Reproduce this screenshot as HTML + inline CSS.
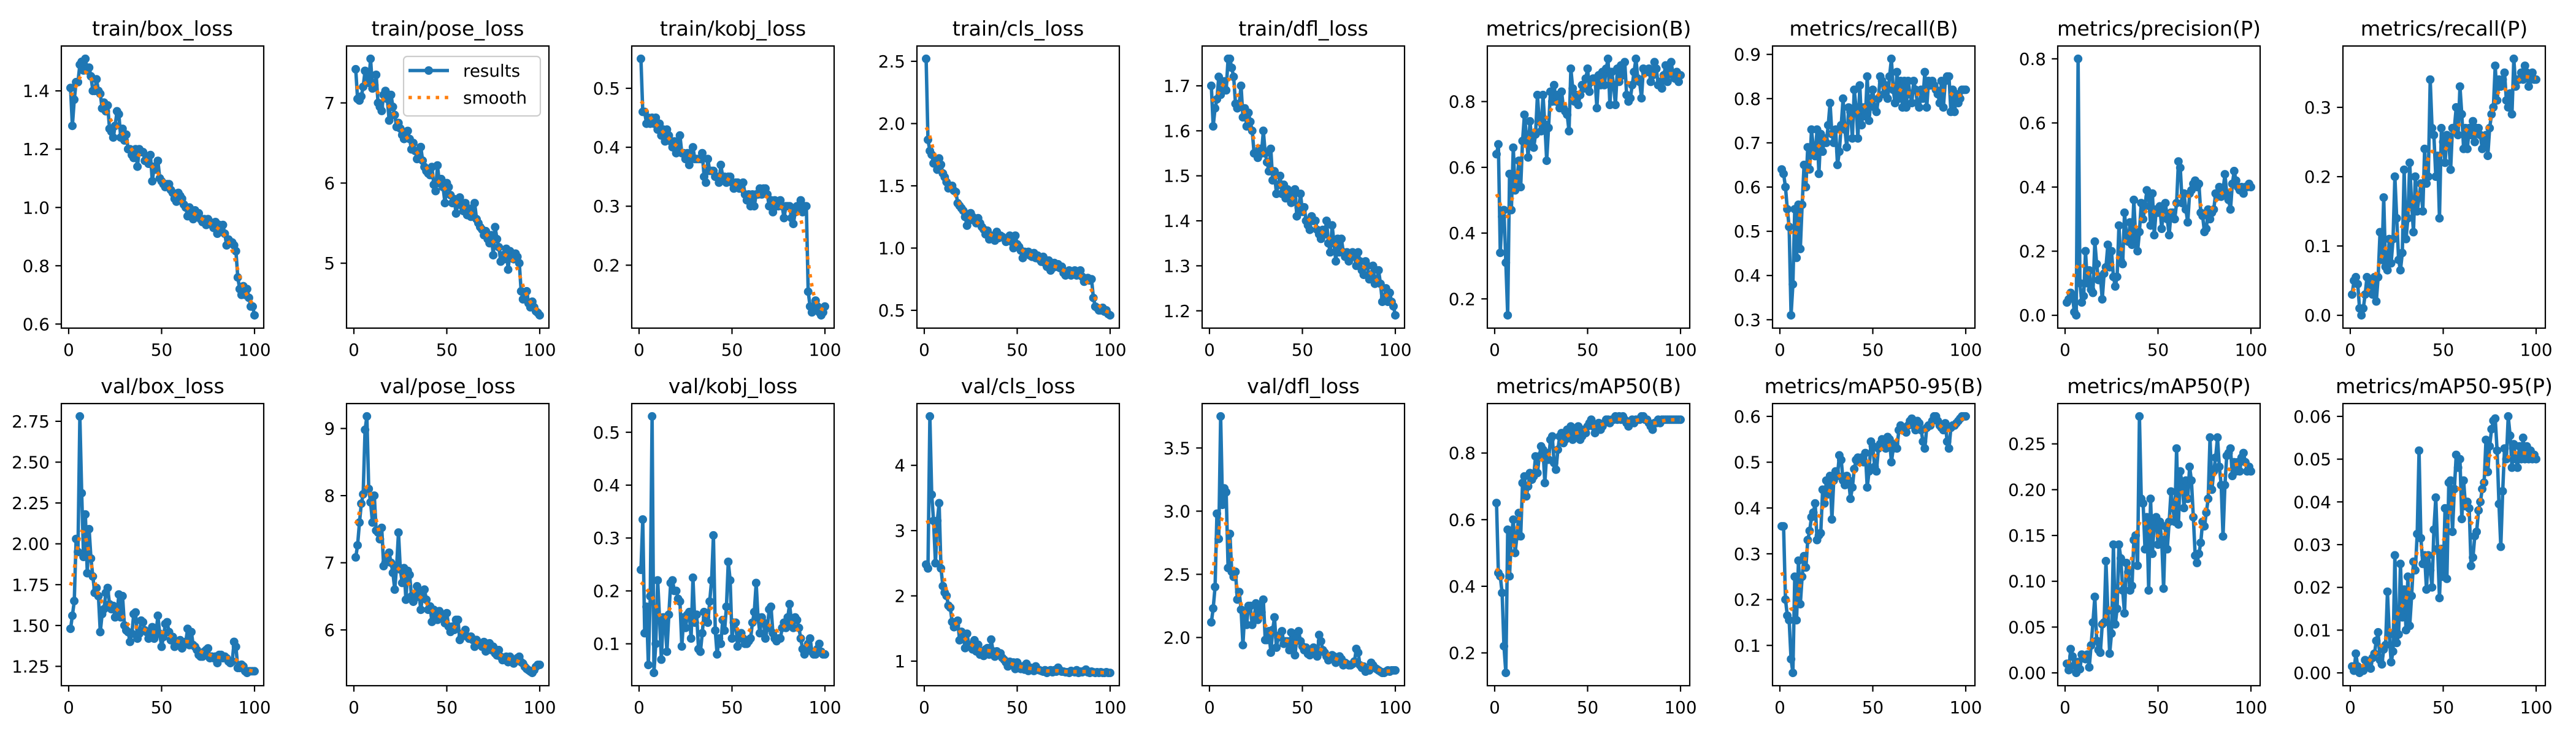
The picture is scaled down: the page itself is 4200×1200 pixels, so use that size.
<!DOCTYPE html>
<html><head><meta charset="utf-8"><style>
html,body{margin:0;padding:0;background:#fff}
svg{display:block}
text{font-family:"DejaVu Sans","Liberation Sans",sans-serif;fill:#000}
</style></head>
<body>
<svg id="fig" width="4200" height="1200" viewBox="0 0 4200 1200" xmlns="http://www.w3.org/2000/svg">
<rect width="4200" height="1200" fill="#fff"/>
</svg>
<script>
const titles = ["train/box_loss","train/pose_loss","train/kobj_loss","train/cls_loss","train/dfl_loss","metrics/precision(B)","metrics/recall(B)","metrics/precision(P)","metrics/recall(P)","val/box_loss","val/pose_loss","val/kobj_loss","val/cls_loss","val/dfl_loss","metrics/mAP50(B)","metrics/mAP50-95(B)","metrics/mAP50(P)","metrics/mAP50-95(P)"];

const trainBox = [1.41,1.28,1.37,1.43,1.43,1.49,1.50,1.47,1.51,1.47,1.48,1.45,1.40,1.40,1.44,1.40,1.39,1.34,1.36,1.33,1.35,1.27,1.26,1.24,1.28,1.33,1.32,1.24,1.27,1.23,1.25,1.20,1.20,1.18,1.17,1.20,1.14,1.20,1.19,1.19,1.16,1.17,1.15,1.18,1.09,1.14,1.13,1.16,1.10,1.09,1.08,1.07,1.08,1.08,1.06,1.05,1.03,1.02,1.05,1.04,1.03,1.01,1.00,0.97,1.00,0.99,0.96,0.99,0.97,0.98,0.96,0.95,0.96,0.94,0.96,0.95,0.94,0.93,0.95,0.91,0.94,0.92,0.94,0.91,0.87,0.89,0.88,0.88,0.87,0.85,0.76,0.72,0.70,0.73,0.70,0.72,0.69,0.66,0.66,0.63];
const trainPose = [7.42,7.05,7.03,7.08,7.2,7.4,7.3,7.25,7.55,7.18,7.22,7.35,7.0,6.95,6.9,7.1,7.15,7.05,6.78,7.1,6.95,6.85,6.7,6.75,6.68,6.6,6.55,6.58,6.65,6.55,6.42,6.5,6.4,6.3,6.35,6.45,6.28,6.2,6.15,6.12,6.1,6.2,5.98,5.9,6.22,6.0,6.05,5.95,5.75,6.0,5.95,5.85,5.75,5.8,5.62,5.75,5.82,5.72,5.65,5.75,5.6,5.68,5.58,5.62,5.75,5.55,5.5,5.45,5.42,5.35,5.4,5.3,5.25,5.35,5.1,5.45,5.3,5.2,5.02,5.1,5.05,5.18,4.92,5.15,5.1,5.05,5.12,5.08,5.0,4.65,4.55,4.6,4.65,4.5,4.45,4.52,4.45,4.4,4.38,4.35];
const trainKobj = [0.55,0.46,0.46,0.44,0.45,0.44,0.45,0.44,0.45,0.43,0.44,0.42,0.43,0.41,0.43,0.42,0.41,0.40,0.41,0.39,0.40,0.42,0.39,0.39,0.38,0.39,0.37,0.39,0.40,0.38,0.38,0.38,0.38,0.39,0.35,0.34,0.38,0.36,0.36,0.36,0.35,0.35,0.34,0.37,0.35,0.35,0.34,0.35,0.35,0.34,0.33,0.34,0.34,0.33,0.33,0.34,0.32,0.31,0.32,0.30,0.32,0.30,0.32,0.32,0.33,0.32,0.33,0.33,0.32,0.30,0.31,0.29,0.31,0.30,0.30,0.31,0.30,0.28,0.30,0.30,0.30,0.28,0.27,0.29,0.30,0.30,0.31,0.29,0.30,0.30,0.155,0.13,0.12,0.13,0.14,0.13,0.12,0.115,0.12,0.13];
const trainCls = [2.52,1.87,1.78,1.75,1.68,1.70,1.63,1.72,1.67,1.60,1.57,1.53,1.48,1.50,1.50,1.46,1.45,1.36,1.34,1.32,1.30,1.25,1.18,1.22,1.28,1.25,1.22,1.20,1.24,1.20,1.17,1.15,1.11,1.14,1.07,1.10,1.08,1.06,1.13,1.08,1.10,1.09,1.08,1.05,1.07,1.10,1.05,1.00,1.10,1.03,1.01,0.98,0.92,0.97,0.95,0.97,0.94,0.93,0.96,0.92,0.94,0.91,0.89,0.93,0.88,0.85,0.90,0.82,0.84,0.88,0.85,0.87,0.84,0.85,0.80,0.78,0.80,0.82,0.78,0.80,0.82,0.78,0.80,0.82,0.77,0.73,0.75,0.76,0.74,0.75,0.60,0.53,0.52,0.50,0.50,0.52,0.49,0.50,0.47,0.46];
const trainDfl = [1.70,1.61,1.65,1.67,1.72,1.68,1.70,1.71,1.69,1.76,1.76,1.74,1.72,1.66,1.65,1.66,1.70,1.63,1.65,1.61,1.64,1.62,1.60,1.55,1.55,1.54,1.56,1.55,1.60,1.55,1.53,1.51,1.56,1.49,1.51,1.46,1.48,1.50,1.46,1.48,1.45,1.47,1.46,1.44,1.45,1.47,1.41,1.43,1.46,1.42,1.43,1.40,1.39,1.38,1.41,1.40,1.40,1.38,1.37,1.36,1.38,1.37,1.40,1.35,1.33,1.39,1.35,1.31,1.36,1.33,1.36,1.33,1.32,1.33,1.31,1.32,1.33,1.32,1.30,1.33,1.31,1.29,1.28,1.31,1.30,1.27,1.28,1.30,1.26,1.27,1.29,1.26,1.22,1.23,1.25,1.22,1.24,1.22,1.21,1.19];
const precB = [0.64,0.67,0.34,0.45,0.47,0.31,0.15,0.58,0.47,0.66,0.53,0.56,0.62,0.54,0.68,0.76,0.70,0.63,0.74,0.68,0.66,0.70,0.82,0.74,0.71,0.82,0.73,0.62,0.72,0.83,0.80,0.85,0.80,0.82,0.78,0.83,0.78,0.77,0.76,0.71,0.90,0.84,0.80,0.82,0.79,0.82,0.85,0.84,0.87,0.90,0.83,0.86,0.87,0.87,0.78,0.88,0.85,0.89,0.85,0.90,0.93,0.79,0.89,0.85,0.79,0.90,0.86,0.91,0.88,0.92,0.82,0.80,0.81,0.85,0.89,0.93,0.87,0.86,0.81,0.90,0.89,0.89,0.90,0.86,0.88,0.92,0.90,0.85,0.86,0.84,0.88,0.91,0.86,0.90,0.92,0.88,0.87,0.89,0.86,0.88];
const recB = [0.64,0.63,0.60,0.55,0.51,0.31,0.38,0.55,0.44,0.56,0.46,0.56,0.65,0.60,0.69,0.64,0.73,0.69,0.67,0.73,0.63,0.72,0.68,0.71,0.70,0.74,0.79,0.72,0.70,0.73,0.65,0.68,0.74,0.80,0.73,0.69,0.78,0.77,0.71,0.82,0.78,0.71,0.83,0.74,0.78,0.76,0.85,0.75,0.80,0.82,0.78,0.77,0.80,0.85,0.84,0.81,0.83,0.80,0.85,0.89,0.82,0.79,0.86,0.80,0.84,0.78,0.84,0.78,0.84,0.81,0.79,0.84,0.82,0.79,0.78,0.82,0.80,0.86,0.78,0.84,0.83,0.84,0.83,0.82,0.81,0.79,0.84,0.78,0.84,0.85,0.85,0.77,0.82,0.77,0.81,0.79,0.80,0.82,0.82,0.82];
const precP = [0.04,0.05,0.07,0.06,0.01,0.00,0.80,0.10,0.04,0.06,0.20,0.10,0.14,0.08,0.07,0.23,0.16,0.11,0.12,0.05,0.13,0.15,0.22,0.15,0.20,0.12,0.09,0.12,0.28,0.17,0.16,0.32,0.25,0.23,0.29,0.22,0.36,0.24,0.20,0.26,0.35,0.30,0.34,0.39,0.37,0.28,0.38,0.25,0.33,0.32,0.34,0.27,0.33,0.35,0.30,0.25,0.32,0.32,0.30,0.35,0.48,0.46,0.35,0.38,0.33,0.29,0.38,0.39,0.41,0.42,0.40,0.41,0.32,0.31,0.26,0.27,0.33,0.30,0.32,0.33,0.38,0.37,0.40,0.37,0.39,0.44,0.38,0.36,0.33,0.41,0.45,0.42,0.40,0.39,0.40,0.38,0.40,0.40,0.41,0.40];
const recP = [0.03,0.05,0.055,0.045,0.01,0.0,0.01,0.03,0.055,0.035,0.05,0.03,0.055,0.02,0.055,0.12,0.08,0.17,0.07,0.065,0.11,0.075,0.11,0.20,0.14,0.08,0.065,0.09,0.21,0.11,0.14,0.22,0.16,0.12,0.20,0.15,0.17,0.19,0.15,0.24,0.19,0.20,0.34,0.27,0.26,0.20,0.23,0.14,0.27,0.25,0.22,0.26,0.25,0.21,0.27,0.27,0.30,0.26,0.33,0.29,0.24,0.27,0.24,0.27,0.26,0.28,0.25,0.27,0.27,0.26,0.24,0.25,0.26,0.23,0.27,0.29,0.30,0.36,0.31,0.34,0.33,0.34,0.35,0.31,0.30,0.32,0.29,0.37,0.33,0.34,0.34,0.35,0.34,0.36,0.35,0.33,0.34,0.35,0.34,0.34];
const valBox = [1.48,1.56,1.65,2.03,1.95,2.78,2.31,1.92,2.18,1.82,2.09,1.91,1.80,1.70,1.73,1.68,1.46,1.57,1.60,1.70,1.73,1.63,1.60,1.62,1.55,1.57,1.69,1.55,1.68,1.50,1.47,1.46,1.40,1.45,1.57,1.58,1.42,1.45,1.53,1.52,1.47,1.46,1.42,1.44,1.49,1.42,1.45,1.56,1.45,1.37,1.43,1.51,1.52,1.46,1.41,1.43,1.37,1.39,1.40,1.41,1.36,1.38,1.40,1.48,1.38,1.46,1.38,1.37,1.35,1.32,1.31,1.31,1.34,1.35,1.36,1.30,1.31,1.30,1.31,1.27,1.32,1.32,1.30,1.31,1.30,1.28,1.27,1.28,1.40,1.37,1.24,1.24,1.26,1.25,1.22,1.21,1.22,1.22,1.22,1.22];
const valPose = [7.08,7.26,7.6,7.88,8.02,8.98,9.18,8.1,7.9,7.6,8.0,7.48,7.45,7.35,7.52,6.95,7.0,7.1,7.15,7.0,6.85,6.6,6.95,7.45,6.9,6.7,6.92,6.45,6.88,6.82,6.5,6.42,6.48,6.65,6.55,6.3,6.52,6.6,6.45,6.3,6.35,6.12,6.3,6.25,6.15,6.28,6.18,6.2,6.1,6.25,6.05,5.97,6.05,6.0,6.15,6.15,5.85,5.9,5.95,6.0,5.9,5.87,5.9,5.85,5.75,5.85,5.8,5.78,5.75,5.82,5.68,5.72,5.8,5.7,5.75,5.65,5.62,5.7,5.6,5.55,5.58,5.6,5.52,5.6,5.55,5.5,5.55,5.58,5.6,5.52,5.5,5.45,5.42,5.4,5.38,5.36,5.4,5.45,5.48,5.48];
const valKobj = [0.24,0.335,0.12,0.17,0.06,0.19,0.53,0.045,0.10,0.22,0.15,0.07,0.15,0.145,0.085,0.155,0.215,0.22,0.20,0.20,0.185,0.18,0.095,0.15,0.13,0.155,0.16,0.11,0.225,0.14,0.155,0.09,0.085,0.12,0.16,0.15,0.14,0.18,0.22,0.305,0.125,0.08,0.11,0.10,0.145,0.125,0.17,0.255,0.22,0.11,0.14,0.14,0.095,0.11,0.12,0.11,0.10,0.10,0.105,0.11,0.14,0.16,0.215,0.15,0.12,0.15,0.14,0.11,0.13,0.165,0.17,0.12,0.11,0.105,0.11,0.11,0.13,0.14,0.13,0.15,0.175,0.14,0.13,0.15,0.145,0.13,0.11,0.09,0.08,0.09,0.10,0.11,0.085,0.08,0.08,0.09,0.10,0.085,0.08,0.08];
const valCls = [2.48,2.42,4.75,3.55,3.15,2.5,3.15,3.42,2.42,2.15,2.05,2.0,1.85,1.82,1.6,1.52,1.55,1.62,1.32,1.45,1.38,1.2,1.42,1.25,1.22,1.18,1.32,1.15,1.25,1.10,1.15,1.08,1.18,1.20,1.10,1.33,1.15,1.07,1.15,1.10,1.12,1.05,1.02,0.98,0.92,0.99,0.95,0.98,0.88,0.98,0.90,0.88,0.92,0.87,0.96,0.85,0.90,0.88,0.85,0.92,0.87,0.86,0.85,0.84,0.86,0.82,0.85,0.86,0.83,0.86,0.84,0.90,0.86,0.84,0.84,0.83,0.83,0.82,0.85,0.84,0.83,0.86,0.82,0.84,0.83,0.85,0.87,0.83,0.82,0.84,0.83,0.82,0.83,0.82,0.83,0.82,0.82,0.83,0.82,0.82];
const valDfl = [2.12,2.23,2.40,2.98,2.78,3.75,3.05,3.18,3.15,2.55,2.82,2.52,2.48,2.52,2.30,2.36,2.22,1.94,2.20,2.10,2.25,2.25,2.10,2.15,2.27,2.14,2.25,2.20,2.30,1.98,1.98,2.05,1.88,2.06,2.16,1.92,2.0,2.02,2.05,1.95,1.97,1.97,1.90,2.04,1.95,1.86,2.00,2.05,1.97,1.93,1.90,1.92,1.87,1.86,1.88,1.92,1.90,1.85,2.02,1.97,1.90,1.88,1.85,1.82,1.84,1.86,1.85,1.80,1.83,1.85,1.83,1.78,1.80,1.79,1.78,1.78,1.79,1.81,1.91,1.88,1.78,1.76,1.77,1.73,1.74,1.74,1.80,1.78,1.76,1.75,1.74,1.73,1.72,1.72,1.73,1.74,1.73,1.74,1.74,1.74];
const map50B = [0.65,0.44,0.43,0.38,0.22,0.14,0.57,0.43,0.55,0.60,0.50,0.55,0.62,0.55,0.71,0.73,0.67,0.70,0.74,0.72,0.73,0.79,0.74,0.79,0.82,0.81,0.71,0.80,0.78,0.84,0.85,0.77,0.75,0.81,0.85,0.86,0.83,0.84,0.87,0.86,0.88,0.84,0.85,0.87,0.88,0.84,0.85,0.87,0.86,0.88,0.89,0.90,0.88,0.86,0.88,0.89,0.87,0.88,0.89,0.90,0.90,0.89,0.90,0.90,0.91,0.90,0.91,0.90,0.91,0.90,0.89,0.88,0.89,0.90,0.89,0.90,0.90,0.90,0.91,0.91,0.90,0.90,0.89,0.88,0.87,0.89,0.89,0.90,0.89,0.90,0.90,0.90,0.90,0.90,0.90,0.90,0.90,0.90,0.90,0.90];
const map5095B = [0.36,0.36,0.20,0.165,0.155,0.07,0.04,0.25,0.155,0.285,0.19,0.25,0.295,0.27,0.33,0.35,0.38,0.39,0.41,0.33,0.34,0.345,0.44,0.41,0.46,0.43,0.47,0.375,0.46,0.48,0.47,0.515,0.505,0.46,0.45,0.47,0.46,0.42,0.445,0.485,0.505,0.51,0.50,0.51,0.50,0.52,0.445,0.48,0.545,0.535,0.49,0.48,0.53,0.54,0.55,0.535,0.53,0.555,0.55,0.50,0.53,0.54,0.53,0.57,0.58,0.575,0.57,0.565,0.58,0.59,0.595,0.58,0.57,0.59,0.585,0.57,0.545,0.53,0.575,0.58,0.58,0.59,0.60,0.60,0.59,0.58,0.575,0.57,0.585,0.545,0.53,0.575,0.58,0.58,0.585,0.59,0.595,0.60,0.60,0.60];
const map50P = [0.01,0.003,0.026,0.018,0.008,0.0,0.012,0.004,0.02,0.016,0.015,0.02,0.006,0.03,0.055,0.083,0.035,0.025,0.022,0.053,0.055,0.122,0.068,0.021,0.043,0.14,0.053,0.07,0.14,0.125,0.09,0.065,0.12,0.11,0.09,0.095,0.145,0.15,0.117,0.28,0.19,0.185,0.135,0.17,0.09,0.19,0.13,0.165,0.17,0.14,0.165,0.145,0.092,0.16,0.135,0.165,0.198,0.18,0.165,0.245,0.162,0.22,0.205,0.18,0.21,0.19,0.225,0.21,0.17,0.128,0.12,0.13,0.142,0.165,0.16,0.175,0.19,0.257,0.20,0.22,0.235,0.257,0.225,0.205,0.149,0.205,0.237,0.24,0.245,0.215,0.23,0.22,0.23,0.22,0.235,0.24,0.23,0.22,0.225,0.22];
const map5095P = [0.0015,0.0005,0.0045,0.0015,0.0,0.001,0.0005,0.003,0.0015,0.0025,0.001,0.0035,0.0045,0.0075,0.0095,0.003,0.002,0.0055,0.0065,0.019,0.009,0.0025,0.005,0.0275,0.007,0.009,0.0255,0.013,0.0195,0.010,0.0225,0.011,0.018,0.026,0.024,0.0325,0.052,0.0315,0.0255,0.0275,0.0195,0.0275,0.024,0.020,0.0335,0.041,0.029,0.0175,0.029,0.0225,0.0385,0.022,0.0445,0.045,0.033,0.043,0.051,0.048,0.05,0.036,0.045,0.039,0.040,0.0385,0.025,0.027,0.032,0.033,0.038,0.040,0.043,0.0445,0.0545,0.047,0.053,0.057,0.059,0.0595,0.052,0.0395,0.0295,0.0425,0.0525,0.05,0.06,0.0555,0.048,0.0535,0.05,0.048,0.053,0.05,0.055,0.05,0.053,0.05,0.052,0.05,0.051,0.05];

const xTicks = [0,50,100];
const yTicks = [
 [0.6,0.8,1.0,1.2,1.4],[5,6,7],[0.2,0.3,0.4,0.5],[0.5,1.0,1.5,2.0,2.5],[1.2,1.3,1.4,1.5,1.6,1.7],
 [0.2,0.4,0.6,0.8],[0.3,0.4,0.5,0.6,0.7,0.8,0.9],[0.0,0.2,0.4,0.6,0.8],[0.0,0.1,0.2,0.3],
 [1.25,1.5,1.75,2.0,2.25,2.5,2.75],[6,7,8,9],[0.1,0.2,0.3,0.4,0.5],[1,2,3,4],[2.0,2.5,3.0,3.5],
 [0.2,0.4,0.6,0.8],[0.1,0.2,0.3,0.4,0.5,0.6],[0.00,0.05,0.10,0.15,0.20,0.25],[0.00,0.01,0.02,0.03,0.04,0.05,0.06]];
const yDecimals = [1,0,1,1,1,1,1,1,1,2,0,1,0,1,1,1,2,2];
const series = [trainBox,trainPose,trainKobj,trainCls,trainDfl,precB,recB,precP,recP,valBox,valPose,valKobj,valCls,valDfl,map50B,map5095B,map50P,map5095P];
const EPOCHS = 100;

const NS="http://www.w3.org/2000/svg";
const svg=document.getElementById('fig');
function mk(tag,attrs,parent){const e=document.createElementNS(NS,tag);for(const k in attrs)e.setAttribute(k,attrs[k]);(parent||svg).appendChild(e);return e;}
function slug(t){return t.toLowerCase().replace(/[^a-z0-9]+/g,'-').replace(/^-|-$/g,'');}
function gauss(y,sigma){const r=Math.round(4*sigma),w=[];let s=0;for(let k=-r;k<=r;k++){const v=Math.exp(-k*k/(2*sigma*sigma));w.push(v);s+=v;}
 const n=y.length,out=[];for(let i=0;i<n;i++){let a=0;for(let k=-r;k<=r;k++){let j=i+k;while(j<0||j>=n){if(j<0)j=-j-1;if(j>=n)j=2*n-j-1;}a+=w[k+r]*y[j];}out.push(a/s);}return out;}

const AX_W=330, AX_H=460;
series.forEach((raw,p)=>{
 const ys=raw.slice(0,EPOCHS);
 const col=p%9,row=Math.floor(p/9);
 const L=100+465*col, T=row===0?75:658, B=T+AX_H;
 const xs=ys.map((_,i)=>i+1);
 const sm=gauss(ys,3);
 let lo=Math.min(...ys,...sm), hi=Math.max(...ys,...sm);
 const mx=(hi-lo)*0.05; lo-=mx; hi+=mx;
 const x0=1-(EPOCHS-1)*0.05, x1=EPOCHS+(EPOCHS-1)*0.05;
 const sx=v=>L+(v-x0)/(x1-x0)*AX_W;
 const sy=v=>B-(v-lo)/(hi-lo)*AX_H;
 const g=mk('g',{});
 
 
 const cp=mk('clipPath',{id:'c'+p},g);mk('rect',{x:L,y:T,width:AX_W,height:AX_H},cp);
 const tt=mk('text',{x:L+AX_W/2,y:T-17,'text-anchor':'middle','font-size':'33.3'},g);tt.textContent=titles[p];
 
 
 const plot=mk('g',{'clip-path':'url(#c'+p+')'},g);
 const d=xs.map((x,i)=>(i?'L':'M')+sx(x).toFixed(1)+' '+sy(ys[i]).toFixed(1)).join(' ');
 const line=mk('path',{d:d,fill:'none',stroke:'#1f77b4','stroke-width':5.6,'stroke-linejoin':'round','stroke-linecap':'square'},plot);
 
 
 xs.forEach((x,i)=>{const c=mk('circle',{cx:sx(x).toFixed(1),cy:sy(ys[i]).toFixed(1),r:7,fill:'#1f77b4'},plot);
  
  });
 const ds=xs.map((x,i)=>(i?'L':'M')+sx(x).toFixed(1)+' '+sy(sm[i]).toFixed(1)).join(' ');
 const sl=mk('path',{d:ds,fill:'none',stroke:'#ff7f0e','stroke-width':5.6,'stroke-dasharray':'5.6 9.2'},plot);
 
 
 const frame=mk('rect',{x:L,y:T,width:AX_W,height:AX_H,fill:'none',stroke:'#000','stroke-width':2.2},g);
 
 
 xTicks.forEach(v=>{const X=sx(v);mk('line',{x1:X,y1:B,x2:X,y2:B+9.7,stroke:'#000','stroke-width':2.2},g);
  const t=mk('text',{x:X,y:B+45,'text-anchor':'middle','font-size':'27.8'},g);t.textContent=v;
  
  });
 yTicks[p].forEach(v=>{if(v<lo||v>hi)return;const Y=sy(v);mk('line',{x1:L-9.7,y1:Y,x2:L,y2:Y,stroke:'#000','stroke-width':2.2},g);
  const t=mk('text',{x:L-19,y:Y+10,'text-anchor':'end','font-size':'27.8'},g);t.textContent=v.toFixed(yDecimals[p]);
  
  });
 if(p===1){
  const lg=mk('g',{},g);
  
  
  mk('rect',{x:658,y:92,width:223,height:97,rx:6,fill:'#fff','fill-opacity':0.8,stroke:'#cccccc','stroke-width':2.2},lg);
  mk('line',{x1:666,y1:115,x2:732,y2:115,stroke:'#1f77b4','stroke-width':5.6},lg);
  mk('circle',{cx:699,cy:115,r:7,fill:'#1f77b4'},lg);
  const t1=mk('text',{x:755,y:125,'font-size':'27.8'},lg);t1.textContent='results';
  
  
  mk('line',{x1:666,y1:159,x2:732,y2:159,stroke:'#ff7f0e','stroke-width':5.6,'stroke-dasharray':'5.6 9.2'},lg);
  const t2=mk('text',{x:755,y:169,'font-size':'27.8'},lg);t2.textContent='smooth';
  
  
 }
});
</script>
</body></html>
